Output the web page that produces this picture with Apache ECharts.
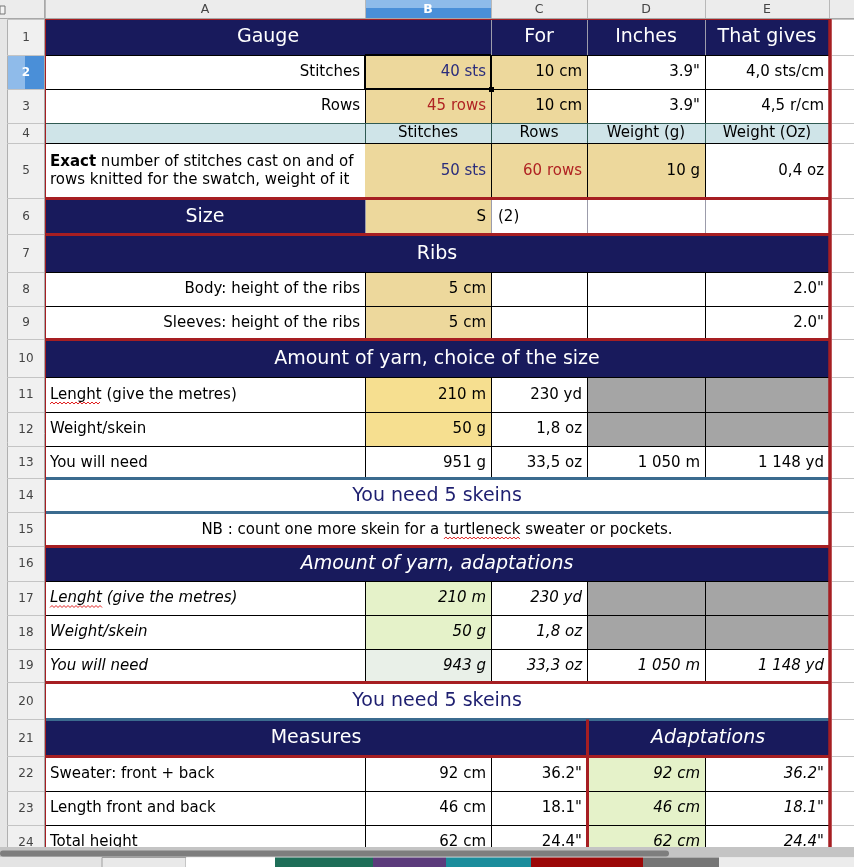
<!DOCTYPE html>
<html><head><meta charset="utf-8">
<script src="https://cdn.jsdelivr.net/npm/echarts@6/dist/echarts.min.js"></script>
<style>html,body{margin:0;padding:0;background:#fff;overflow:hidden}#c{width:854px;height:867px}</style>
</head><body><div id="c"></div>
<script>
// ================= DATA =================
const columnLetters = ['A', 'B', 'C', 'D', 'E'];
const rowNumbers = [1,2,3,4,5,6,7,8,9,10,11,12,13,14,15,16,17,18,19,20,21,22,23,24];

const gaugeHeader   = ['Gauge', 'For', 'Inches', 'That gives'];
const gaugeStitches = ['Stitches', '40 sts', '10 cm', '3.9"', '4,0 sts/cm'];
const gaugeRows     = ['Rows', '45 rows', '10 cm', '3.9"', '4,5 r/cm'];
const swatchHeader  = ['', 'Stitches', 'Rows', 'Weight (g)', 'Weight (Oz)'];
const swatchLabelBold = 'Exact';
const swatchLabelRest = [' number of stitches cast on and of', 'rows knitted for the swatch, weight of it'];
const swatchValues  = ['50 sts', '60 rows', '10 g', '0,4 oz'];
const sizeRow       = ['Size', 'S', '(2)', '', ''];
const ribsTitle     = 'Ribs';
const ribsBody      = ['Body: height of the ribs', '5 cm', '', '', '2.0"'];
const ribsSleeves   = ['Sleeves: height of the ribs', '5 cm', '', '', '2.0"'];
const yarnTitle     = 'Amount of yarn, choice of the size';
const yarnLength    = ['Lenght (give the metres)', '210 m', '230 yd'];
const yarnWeight    = ['Weight/skein', '50 g', '1,8 oz'];
const yarnNeed      = ['You will need', '951 g', '33,5 oz', '1 050 m', '1 148 yd'];
const skeinsMessage = 'You need 5 skeins';
const noteMessage   = 'NB : count one more skein for a turtleneck sweater or pockets.';
const adaptTitle    = 'Amount of yarn, adaptations';
const adaptLength   = ['Lenght (give the metres)', '210 m', '230 yd'];
const adaptWeight   = ['Weight/skein', '50 g', '1,8 oz'];
const adaptNeed     = ['You will need', '943 g', '33,3 oz', '1 050 m', '1 148 yd'];
const adaptSkeinsMessage = 'You need 5 skeins';
const measuresTitles = ['Measures', 'Adaptations'];
const measureLabels  = ['Sweater: front + back', 'Length front and back', 'Total height'];
const measureCm      = ['92 cm', '46 cm', '62 cm'];
const measureInches  = ['36.2"', '18.1"', '24.4"'];
const adaptCm        = ['92 cm', '46 cm', '62 cm'];
const adaptInches    = ['36.2"', '18.1"', '24.4"'];
const misspelled     = ['Lenght', 'turtleneck'];

// ================= LAYOUT / STYLE =================
const COL_X = [45, 365, 491, 587, 705, 829];
const ROW_Y = [19,55,89,123,143,198.5,234.5,272,306,339.5,377,412,446,478.5,512.5,546.5,581,615,649,682.5,719.5,756.5,791,825,859];
const FONT = '"DejaVu Sans"';
const S_BODY = 15, S_HEAD = 19;
const COL = {
  navy:'#181a5c', red:'#a61e22', steel:'#3b6b8f', tan:'#edd89c', yellow:'#f6df90',
  green:'#e5f2c9', paleGreen:'#e9f0e8', gray:'#a5a5a5', lightBlue:'#cfe4e8',
  ink:'#000', navyInk:'#2b2d7c', redInk:'#b02323', msgInk:'#1e1f70', white:'#fff'
};

const fills = [];
const texts = [];
const rules = [];
const chrome = [];
const chromeTexts = [];

function cell(r, c0, c1, text, o) {
  o = o || {};
  const x0 = COL_X[c0], x1 = COL_X[c1 + 1], y0 = ROW_Y[r - 1], y1 = ROW_Y[r];
  if (o.fill) fills.push({x0, y0, x1, y1, fill: o.fill});
  if (text !== '' && text != null) texts.push(Object.assign({x0, y0, x1, y1, text,
    align: 'right', size: S_BODY, color: COL.ink}, o));
}
const H = {fill: COL.navy, color: COL.white, align: 'center', size: S_HEAD};

// Row 1
cell(1, 0, 1, gaugeHeader[0], H);
cell(1, 2, 2, gaugeHeader[1], H);
cell(1, 3, 3, gaugeHeader[2], H);
cell(1, 4, 4, gaugeHeader[3], H);
// Rows 2-3
[[2, gaugeStitches, COL.navyInk], [3, gaugeRows, COL.redInk]].forEach(([r, v, ink]) => {
  cell(r, 0, 0, v[0], {fill: COL.white});
  cell(r, 1, 1, v[1], {fill: COL.tan, color: ink});
  cell(r, 2, 2, v[2], {fill: COL.tan});
  cell(r, 3, 3, v[3], {fill: COL.white});
  cell(r, 4, 4, v[4], {fill: COL.white});
});
// Row 4
swatchHeader.forEach((t, i) => cell(4, i, i, t, {fill: COL.lightBlue, align: 'center'}));
// Row 5
cell(5, 0, 0, '{b|' + swatchLabelBold + '}' + swatchLabelRest[0] + '\n' + swatchLabelRest[1],
  {fill: COL.white, align: 'left', rich: true});
cell(5, 1, 1, swatchValues[0], {fill: COL.tan, color: COL.navyInk});
cell(5, 2, 2, swatchValues[1], {fill: COL.tan, color: COL.redInk});
cell(5, 3, 3, swatchValues[2], {fill: COL.tan});
cell(5, 4, 4, swatchValues[3], {fill: COL.white});
// Row 6
cell(6, 0, 0, sizeRow[0], H);
cell(6, 1, 1, sizeRow[1], {fill: COL.tan});
cell(6, 2, 2, sizeRow[2], {fill: COL.white, align: 'left', pad: 7});
cell(6, 3, 4, '', {fill: COL.white});
// Row 7
cell(7, 0, 4, ribsTitle, H);
// Rows 8-9
[[8, ribsBody], [9, ribsSleeves]].forEach(([r, v]) => {
  cell(r, 0, 0, v[0], {fill: COL.white});
  cell(r, 1, 1, v[1], {fill: COL.tan});
  cell(r, 2, 3, '', {fill: COL.white});
  cell(r, 4, 4, v[4], {fill: COL.white});
});
// Row 10
cell(10, 0, 4, yarnTitle, H);
// Rows 11-13
[[11, yarnLength, misspelled[0]], [12, yarnWeight, null]].forEach(([r, v, sq]) => {
  cell(r, 0, 0, v[0], {fill: COL.white, align: 'left', squiggle: sq ? {prefix: '', word: sq} : null});
  cell(r, 1, 1, v[1], {fill: COL.yellow});
  cell(r, 2, 2, v[2], {fill: COL.white});
  cell(r, 3, 4, '', {fill: COL.gray});
});
cell(13, 0, 0, yarnNeed[0], {fill: COL.white, align: 'left'});
for (let i = 1; i < 5; i++) cell(13, i, i, yarnNeed[i], {fill: COL.white});
// Rows 14-15
cell(14, 0, 4, skeinsMessage, {fill: COL.white, align: 'center', size: S_HEAD, color: COL.msgInk});
cell(15, 0, 4, noteMessage, {fill: COL.white, align: 'center',
  squiggle: {prefix: noteMessage.slice(0, noteMessage.indexOf(misspelled[1])), word: misspelled[1]}});
// Row 16
cell(16, 0, 4, adaptTitle, Object.assign({}, H, {italic: true}));
// Rows 17-19
[[17, adaptLength, misspelled[0]], [18, adaptWeight, null]].forEach(([r, v, sq]) => {
  cell(r, 0, 0, v[0], {fill: COL.white, align: 'left', italic: true, squiggle: sq ? {prefix: '', word: sq} : null});
  cell(r, 1, 1, v[1], {fill: COL.green, italic: true});
  cell(r, 2, 2, v[2], {fill: COL.white, italic: true});
  cell(r, 3, 4, '', {fill: COL.gray});
});
cell(19, 0, 0, adaptNeed[0], {fill: COL.white, align: 'left', italic: true});
cell(19, 1, 1, adaptNeed[1], {fill: COL.paleGreen, italic: true});
for (let i = 2; i < 5; i++) cell(19, i, i, adaptNeed[i], {fill: COL.white, italic: true});
// Row 20
cell(20, 0, 4, adaptSkeinsMessage, {fill: COL.white, align: 'center', size: S_HEAD, color: COL.msgInk});
// Row 21
cell(21, 0, 2, measuresTitles[0], H);
cell(21, 3, 4, measuresTitles[1], Object.assign({}, H, {italic: true}));
// Rows 22-24
measureLabels.forEach((lab, i) => {
  const r = 22 + i;
  cell(r, 0, 0, lab, {fill: COL.white, align: 'left'});
  cell(r, 1, 1, measureCm[i], {fill: COL.white});
  cell(r, 2, 2, measureInches[i], {fill: COL.white});
  cell(r, 3, 3, adaptCm[i], {fill: COL.green, italic: true});
  cell(r, 4, 4, adaptInches[i], {fill: COL.white, italic: true});
});

// ---- borders ----
const B1 = ['#000', 1], G1 = ['#9c9cab', 1], T1 = ['#2f5a52', 1], R3 = [COL.red, 3], S3 = [COL.steel, 3], RT = [COL.red, 1];
const hStyle = [RT, B1, B1, T1, B1, R3, R3, B1, B1, R3, B1, B1, B1, S3, S3, R3, B1, B1, B1, R3, S3, R3, B1, B1];
const vAll = [B1, B1, B1, B1];
const vStyle = {
  1: [null, G1, G1, G1], 2: vAll, 3: vAll, 4: [T1, T1, T1, T1], 5: [null, B1, B1, B1],
  6: [G1, G1, G1, G1], 8: vAll, 9: vAll, 11: vAll, 12: vAll, 13: vAll,
  17: vAll, 18: vAll, 19: vAll, 21: [null, null, R3, null],
  22: [B1, B1, R3, B1], 23: [B1, B1, R3, B1], 24: [B1, B1, R3, B1]
};
const thickV = [];
Object.keys(vStyle).forEach(k => {
  const r = +k;
  vStyle[k].forEach((st, j) => {
    if (!st) return;
    const seg = {x0: COL_X[j + 1], y0: ROW_Y[r - 1], x1: COL_X[j + 1], y1: ROW_Y[r], color: st[0], width: st[1]};
    (st[1] > 1 ? thickV : rules).push(seg);
  });
});
hStyle.forEach((st, k) => rules.push({x0: COL_X[0], y0: ROW_Y[k], x1: COL_X[5], y1: ROW_Y[k], color: st[0], width: st[1]}));
thickV.forEach(s => rules.push(s));
// selected cell B2
rules.push({x0: COL_X[1], y0: ROW_Y[1], x1: COL_X[2], y1: ROW_Y[1], color: '#000', width: 2});
rules.push({x0: COL_X[1], y0: ROW_Y[2], x1: COL_X[2], y1: ROW_Y[2], color: '#000', width: 2});
rules.push({x0: COL_X[1], y0: ROW_Y[1], x1: COL_X[1], y1: ROW_Y[2], color: '#000', width: 2});
rules.push({x0: COL_X[2], y0: ROW_Y[1], x1: COL_X[2], y1: ROW_Y[2], color: '#000', width: 2});
rules.push({x0: COL_X[2] - 2, y0: ROW_Y[2] - 2, x1: COL_X[2] + 3, y1: ROW_Y[2] + 3, color: '#000', rect: true});
// outer table borders
rules.push({x0: COL_X[0], y0: ROW_Y[0], x1: COL_X[0], y1: 867, color: COL.red, width: 1});
rules.push({x0: COL_X[5] + 1, y0: ROW_Y[0], x1: COL_X[5] + 1, y1: 867, color: COL.red, width: 3.5});
// grid beyond the table
ROW_Y.forEach(y => rules.push({x0: COL_X[5] + 3, y0: y, x1: 854, y1: y, color: '#c6c6c6', width: 1}));

// ---- spreadsheet chrome ----
chrome.push({x0: 0, y0: 0, x1: 854, y1: 18, fill: '#ececec'});
chrome.push({x0: 0, y0: 18, x1: 7, y1: 867, fill: '#e6e6e6'});
chrome.push({x0: 7, y0: 18, x1: 44, y1: 867, fill: '#f0f0f0'});
chrome.push({x0: COL_X[1], y0: 0, x1: COL_X[2], y1: 8, fill: '#8ebbea'});
chrome.push({x0: COL_X[1], y0: 8, x1: COL_X[2], y1: 18, fill: '#4a8fd8'});
chrome.push({x0: 7, y0: ROW_Y[1], x1: 25, y1: ROW_Y[2], fill: '#8fbbea'});
chrome.push({x0: 25, y0: ROW_Y[1], x1: 44, y1: ROW_Y[2], fill: '#4a8fd8'});
chrome.push({x0: 0, y0: 6, x1: 5, y1: 14, fill: '#f4f4f4', stroke: '#777'});
const chromeLines = [];
chromeLines.push({x0: 0, y0: 18, x1: 854, y1: 18, color: '#a8a8a8', width: 1});
chromeLines.push({x0: 7, y0: 18, x1: 7, y1: 867, color: '#b0b0b0', width: 1});
chromeLines.push({x0: 44, y0: 0, x1: 44, y1: 867, color: '#a8a8a8', width: 1});
COL_X.forEach(x => chromeLines.push({x0: x, y0: 0, x1: x, y1: 18, color: '#b8b8b8', width: 1}));
ROW_Y.forEach(y => chromeLines.push({x0: 7, y0: y, x1: 44, y1: y, color: '#c4c4c4', width: 1}));
columnLetters.forEach((l, i) => chromeTexts.push({x0: COL_X[i], y0: 0, x1: COL_X[i + 1], y1: 18, text: l,
  align: 'center', size: 12.5, color: i === 1 ? '#fff' : '#444', bold: i === 1}));
rowNumbers.forEach((n, i) => chromeTexts.push({x0: 7, y0: ROW_Y[i], x1: 45, y1: ROW_Y[i + 1], text: String(n),
  align: 'center', size: 12, color: n === 2 ? '#fff' : '#444', bold: n === 2}));
// scrollbar + sheet tabs
const bottom = [];
bottom.push({x0: 0, y0: 847, x1: 854, y1: 857, fill: '#c4c4c4'});
bottom.push({x0: 0, y0: 850.5, x1: 669, y1: 856.5, fill: '#7e7e7e', r: 3});
bottom.push({x0: 0, y0: 857, x1: 854, y1: 867, fill: '#e4e4e4'});
const tabEdges = [102, 186, 275, 373, 446, 531, 643, 719];
const tabColors = ['#e9e9e9', '#ffffff', '#1e6e58', '#5c3b7c', '#1b8d9c', '#9c0808', '#767676'];
tabColors.forEach((c, i) => bottom.push({x0: tabEdges[i], y0: 857.5, x1: tabEdges[i + 1], y1: 868, fill: c,
  stroke: i === 0 ? '#a0a0a0' : null}));
bottom.push({x0: 719, y0: 857.5, x1: 854, y1: 868, fill: '#ececec'});

// ================= RENDERING =================
const measureCtx = document.createElement('canvas').getContext('2d');
function fontOf(t) { return (t.italic ? 'italic ' : '') + (t.bold ? 'bold ' : '') + t.size + 'px ' + FONT; }
function measure(font, s) { measureCtx.font = font; return measureCtx.measureText(s).width; }
function crisp(v, w) { return (Math.round(w) % 2 === 1) ? Math.floor(v) + 0.5 : Math.round(v); }

function layer(items, z, kind) {
  return {
    type: 'custom', coordinateSystem: 'cartesian2d', clip: false, silent: true, z: z,
    data: items.map(it => [it.x0, it.y0, it.x1, it.y1]),
    encode: {x: [0, 2], y: [1, 3]},
    renderItem: function (params, api) {
      const it = items[params.dataIndex];
      const p0 = api.coord([api.value(0), api.value(1)]);
      const p1 = api.coord([api.value(2), api.value(3)]);
      const x0 = Math.min(p0[0], p1[0]), x1 = Math.max(p0[0], p1[0]);
      const y0 = Math.min(p0[1], p1[1]), y1 = Math.max(p0[1], p1[1]);
      if (kind === 'rect' || it.rect) {
        return {type: 'rect', shape: {x: x0, y: y0, width: x1 - x0, height: y1 - y0, r: it.r || 0},
          style: {fill: it.fill || it.color, stroke: it.stroke || null, lineWidth: it.stroke ? 1 : 0}};
      }
      if (kind === 'line') {
        const w = it.width;
        let ax = p0[0], ay = p0[1], bx = p1[0], by = p1[1];
        if (ax === bx) { ax = bx = crisp(ax, w); } else { ay = by = crisp(ay, w); }
        return {type: 'line', shape: {x1: ax, y1: ay, x2: bx, y2: by}, style: {stroke: it.color, lineWidth: w}};
      }
      const pad = it.pad || 5;
      const x = it.align === 'left' ? x0 + pad : it.align === 'right' ? x1 - pad : (x0 + x1) / 2;
      const y = (y0 + y1) / 2 + 0.5;
      const font = fontOf(it);
      const style = {text: it.text, x: x, y: y, fill: it.color, font: font, align: it.align, verticalAlign: 'middle'};
      if (it.rich) {
        style.lineHeight = 18;
        style.rich = {b: {font: 'bold ' + it.size + 'px ' + FONT, fill: it.color}};
      }
      const children = [{type: 'text', style: style}];
      if (it.squiggle) {
        let sx = it.align === 'left' ? x : x - measure(font, it.text) / 2;
        sx += measure(font, it.squiggle.prefix);
        const ww = measure(font, it.squiggle.word);
        const pts = [];
        for (let k = 0; k * 2 <= ww; k++) pts.push([sx + k * 2, y + 8 + (k % 2 ? -1 : 1)]);
        children.push({type: 'polyline', shape: {points: pts}, style: {stroke: '#e02020', lineWidth: 1, fill: null}});
      }
      return {type: 'group', children: children};
    }
  };
}

const chart = echarts.init(document.getElementById('c'), null, {renderer: 'canvas'});
chart.setOption({
  animation: false,
  backgroundColor: '#ffffff',
  grid: {left: 0, right: 0, top: 0, bottom: 0},
  xAxis: {type: 'value', min: 0, max: 854, show: false},
  yAxis: {type: 'value', min: 0, max: 867, inverse: true, show: false},
  series: [
    layer(fills, 1, 'rect'),
    layer(texts, 2, 'text'),
    layer(rules, 3, 'line'),
    layer(chrome, 4, 'rect'),
    layer(chromeLines, 5, 'line'),
    layer(chromeTexts, 6, 'text'),
    layer(bottom, 7, 'rect')
  ]
});
</script></body></html>
